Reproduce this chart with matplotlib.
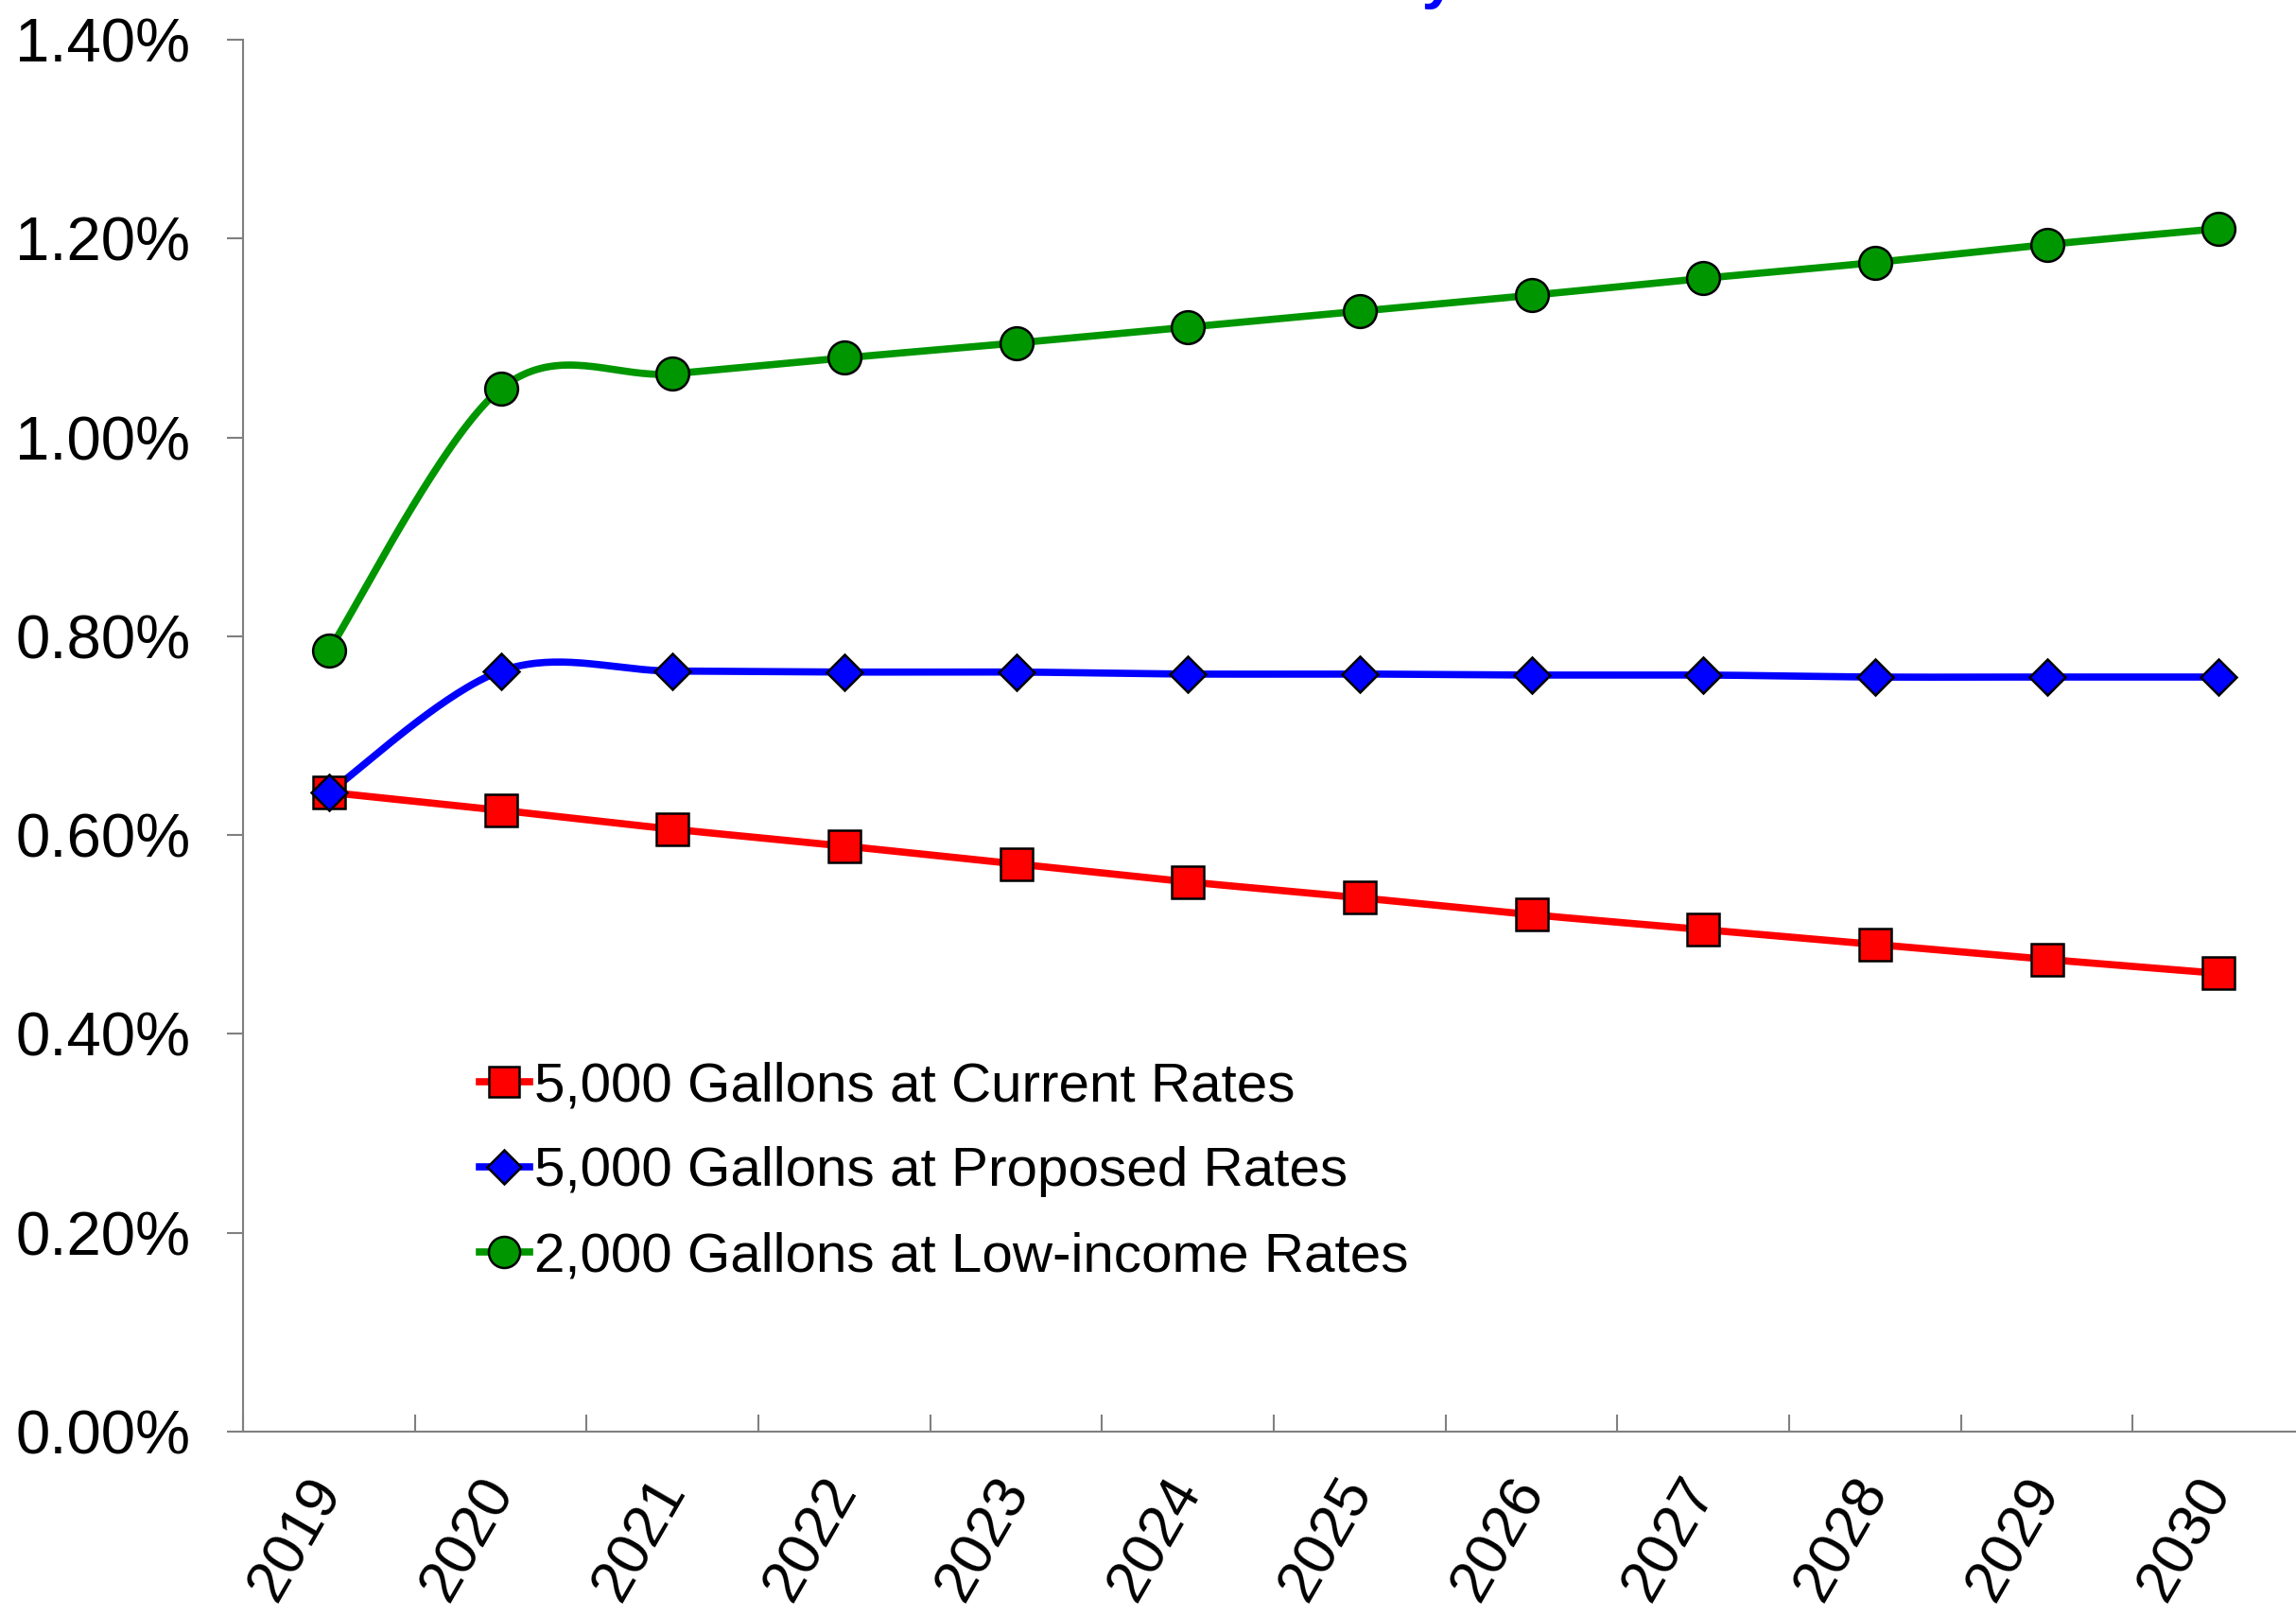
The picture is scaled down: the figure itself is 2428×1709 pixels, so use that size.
import numpy as np
import matplotlib.pyplot as plt
from matplotlib.lines import Line2D
from matplotlib.ticker import FuncFormatter, FixedLocator

plt.rcParams['font.family'] = ['Liberation Sans', 'DejaVu Sans']

# Data (percent of income)
years = ['2019', '2020', '2021', '2022', '2023', '2024',
         '2025', '2026', '2027', '2028', '2029', '2030']
current_rates = [0.643, 0.625, 0.606, 0.589, 0.571, 0.553,
                 0.537, 0.520, 0.505, 0.490, 0.475, 0.461]
proposed_rates = [0.643, 0.765, 0.765, 0.764, 0.764, 0.762,
                  0.762, 0.761, 0.761, 0.759, 0.759, 0.759]
lowincome_rates = [0.786, 1.049, 1.064, 1.080, 1.095, 1.111,
                   1.127, 1.143, 1.160, 1.176, 1.194, 1.210]
labels = ['5,000 Gallons at Current Rates',
          '5,000 Gallons at Proposed Rates',
          '2,000 Gallons at Low-income Rates']


def smooth(x, y, n=40):
    # Excel-style smoothed line (Catmull-Rom as cubic Bezier segments)
    pts = np.column_stack([x, y]).astype(float)
    P = np.vstack([pts[0], pts, pts[-1]])
    t = np.linspace(0, 1, n)[:, None]
    segs = []
    for i in range(1, len(P) - 2):
        p0, p1, p2, p3 = P[i - 1], P[i], P[i + 1], P[i + 2]
        c1 = p1 + (p2 - p0) / 6
        c2 = p2 - (p3 - p1) / 6
        segs.append((1 - t) ** 3 * p1 + 3 * (1 - t) ** 2 * t * c1
                    + 3 * (1 - t) * t ** 2 * c2 + t ** 3 * p2)
    s = np.vstack(segs)
    return s[:, 0], s[:, 1]


fig = plt.figure(figsize=(24.28, 17.09), dpi=100)
ax = fig.add_axes([0.1059, 0.1141, 0.8978, 0.8613])

x = np.arange(len(years))
series = [
    (current_rates, '#FF0000', 's', 24),
    (proposed_rates, '#0000FF', 'D', 19),
    (lowincome_rates, '#009600', 'o', 25),
]
handles = []
for (vals, color, marker, ms), lab in zip(series, labels):
    sx, sy = smooth(x, vals)
    ax.plot(sx, sy, color=color, lw=5.5, solid_capstyle='round', zorder=2)
    ax.plot(x, vals, linestyle='none', marker=marker, markersize=ms,
            markerfacecolor=color, markeredgecolor='black',
            markeredgewidth=1.8, zorder=3)
    handles.append(Line2D([], [], color=color, lw=5.5, marker=marker,
                          markersize=ms * 0.95, markerfacecolor=color,
                          markeredgecolor='black', markeredgewidth=1.8))

ax.set_xlim(-0.5, len(years) - 0.5)
ax.set_ylim(0, 1.4)

ax.set_yticks(np.arange(0, 1.41, 0.2))
ax.yaxis.set_major_formatter(FuncFormatter(lambda v, p: f'{v:.2f}%'))
ax.tick_params(axis='y', direction='out', length=12, width=1.5,
               color='#808080', pad=28, labelsize=47)

ax.set_xticks(x)
ax.set_xticklabels(years, rotation=60, ha='right', va='center',
                   rotation_mode='anchor')
ax.tick_params(axis='x', which='major', length=0, pad=38, labelsize=45)
ax.xaxis.set_minor_locator(FixedLocator(np.arange(-0.5, len(years), 1.0)))
ax.tick_params(axis='x', which='minor', direction='in', length=13,
               width=1.5, color='#808080')

for side in ['top', 'right']:
    ax.spines[side].set_visible(False)
for side in ['left', 'bottom']:
    ax.spines[side].set_color('#808080')
    ax.spines[side].set_linewidth(1.5)

ax.legend(handles, labels, loc='upper left',
          bbox_to_anchor=(0.104, 0.282), frameon=False, fontsize=42,
          handlelength=0.9, handletextpad=0.1, labelspacing=0.62,
          borderaxespad=0)

# title cut off at the top of the picture
fig.text(1540 / 2428, 1 + 3 / 1709, 'Affordability', color='#0000FF',
         fontsize=47, fontweight='bold', ha='right', va='baseline')

plt.savefig('out.png', dpi=100)
